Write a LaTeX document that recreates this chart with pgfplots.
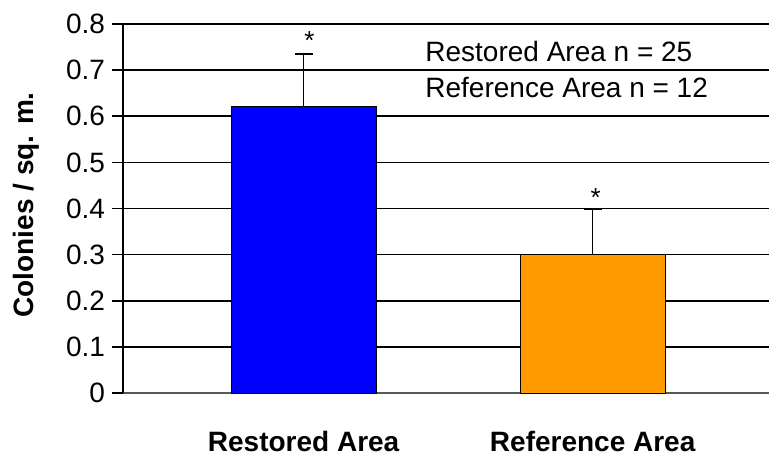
\documentclass[border=0pt]{standalone}
\usepackage{pgfplots}
\pgfplotsset{compat=1.18}
\usepackage{fontspec}
\setmainfont{Liberation Sans}
\definecolor{barblue}{RGB}{0,0,255}
\definecolor{barorange}{RGB}{255,153,0}
\begin{document}
\begin{tikzpicture}
\useasboundingbox (0,0) rectangle (384.5pt,228pt);
\begin{axis}[
  at={(61.5pt,31.5pt)}, anchor=south west,
  scale only axis,
  width=323pt, height=184.5pt,
  xmin=-0.625, xmax=1.61,
  ymin=0, ymax=0.8,
  ytick={0,0.1,...,0.8},
  yticklabel style={/pgf/number format/fixed, /pgf/number format/precision=1},
  /pgf/number format/assume math mode=true,
  xtick={0,1},
  xticklabels={Restored Area, Reference Area},
  xticklabel style={font=\fontsize{14}{16}\selectfont\bfseries, yshift=-10pt},
  yticklabel style={font=\fontsize{14}{16}\selectfont},
  axis x line*=bottom, axis y line*=left,
  axis line style={line width=0.8pt, -},
  x axis line style={draw=gray!70!black},
  ymajorgrids, grid style={black, line width=0.8pt},
  ytick style={black, line width=0.8pt},
  tick align=outside, major tick length=5.5pt,
  xtick style={draw=none},
  ylabel={Colonies / sq. m.},
  every axis y label/.style={at={(axis description cs:-0.149,0.51)}, rotate=90, anchor=center, font=\fontsize{14}{16}\selectfont\bfseries},
  ybar, bar width=72.5pt,
  clip=false,
]
\addplot[fill=barblue, draw=black, line width=0.5pt, bar shift=0pt,
  error bars/.cd, y dir=plus, y explicit,
  error bar style={black, line width=0.75pt},
  error mark options={rotate=90, mark size=4.5pt, line width=1pt, black}]
  coordinates {(0,0.622) +- (0,0.113)};
\addplot[fill=barorange, draw=black, line width=0.5pt, bar shift=0pt,
  error bars/.cd, y dir=plus, y explicit,
  error bar style={black, line width=0.75pt},
  error mark options={rotate=90, mark size=4.5pt, line width=1pt, black}]
  coordinates {(1,0.30) +- (0,0.10)};
\node[font=\fontsize{13}{15}\selectfont, anchor=south] at (axis cs:0.02,0.73) {*};
\node[font=\fontsize{13}{15}\selectfont, anchor=south] at (axis cs:1.01,0.388) {*};
\node[font=\fontsize{14}{16}\selectfont, anchor=west, inner sep=0pt] at (rel axis cs:0.4675,0.925) {Restored Area n = 25};
\node[font=\fontsize{14}{16}\selectfont, anchor=west, inner sep=0pt] at (rel axis cs:0.4675,0.827) {Reference Area n = 12};
\end{axis}
\end{tikzpicture}
\end{document}
